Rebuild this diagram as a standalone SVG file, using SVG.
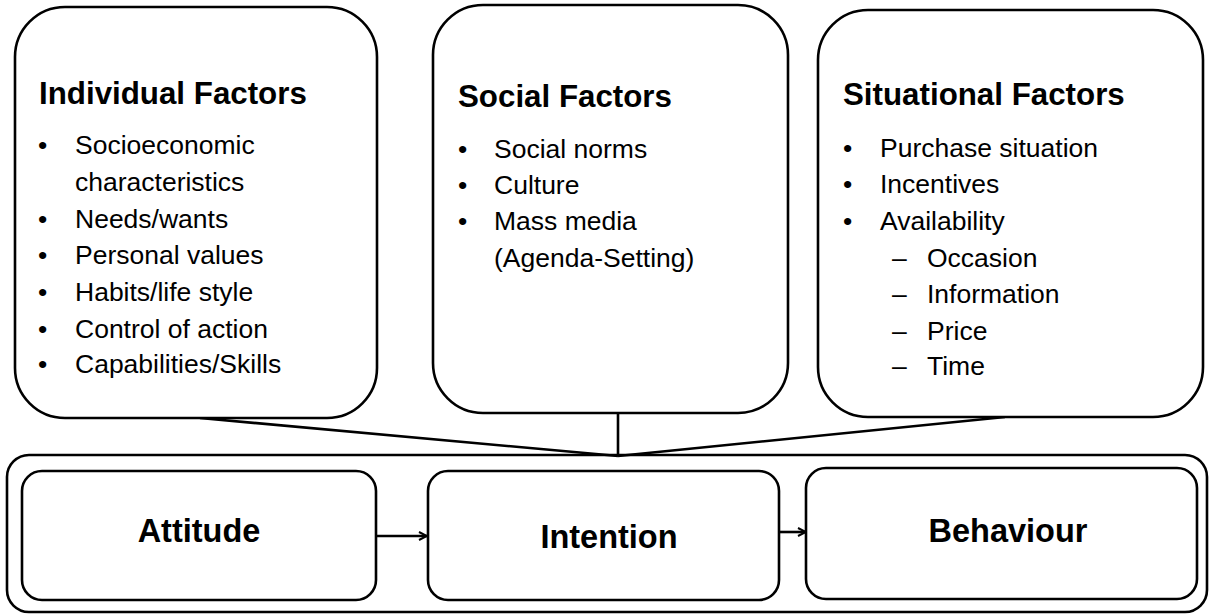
<svg xmlns="http://www.w3.org/2000/svg" width="1212" height="615" viewBox="0 0 1212 615">
<style>
.box{fill:#fff;stroke:#000;stroke-width:2.6}
.conn{stroke:#000;stroke-width:2.6;fill:none}
.h{font-family:"Liberation Sans",Arial,sans-serif;font-weight:bold;font-size:31.3px;fill:#000}
.t{font-family:"Liberation Sans",Arial,sans-serif;font-size:26.5px;fill:#000}
.b{font-family:"Liberation Sans",Arial,sans-serif;font-weight:bold;font-size:32.5px;fill:#000}
</style>
<defs>
<marker id="ah" viewBox="0 0 10 10" refX="9" refY="5" markerWidth="10" markerHeight="10" markerUnits="userSpaceOnUse" orient="auto">
<path d="M1,1 L9,5 L1,9" fill="none" stroke="#000" stroke-width="2"/>
</marker>
</defs>
<g id="outer"><rect class="box" x="7" y="455" width="1200" height="157" rx="22"/></g>
<g id="connectors">
<line class="conn" x1="200" y1="418" x2="618" y2="456"/>
<line class="conn" x1="618" y1="413" x2="618" y2="456"/>
<line class="conn" x1="1005" y1="417" x2="618" y2="456"/>
<line class="conn" x1="376" y1="536" x2="427" y2="536" marker-end="url(#ah)"/>
<line class="conn" x1="779" y1="532" x2="806" y2="532" marker-end="url(#ah)"/>
</g>
<g id="individual">
<rect class="box" x="15" y="7" width="362" height="411" rx="50"/>
<text class="h" x="39" y="104">Individual Factors</text>
<g class="t">
<text x="38" y="154">•</text><text x="75" y="154">Socioeconomic</text>
<text x="75" y="191">characteristics</text>
<text x="38" y="228">•</text><text x="75" y="228">Needs/wants</text>
<text x="38" y="264">•</text><text x="75" y="264">Personal values</text>
<text x="38" y="301">•</text><text x="75" y="301">Habits/life style</text>
<text x="38" y="338">•</text><text x="75" y="338">Control of action</text>
<text x="38" y="373">•</text><text x="75" y="373">Capabilities/Skills</text>
</g>
</g>
<g id="social">
<rect class="box" x="433" y="5" width="355" height="408" rx="50"/>
<text class="h" x="458" y="107">Social Factors</text>
<g class="t">
<text x="458" y="158">•</text><text x="494" y="158">Social norms</text>
<text x="458" y="194">•</text><text x="494" y="194">Culture</text>
<text x="458" y="230">•</text><text x="494" y="230">Mass media</text>
<text x="494" y="267">(Agenda-Setting)</text>
</g>
</g>
<g id="situational">
<rect class="box" x="818" y="10" width="385" height="407" rx="50"/>
<text class="h" x="843" y="105">Situational Factors</text>
<g class="t">
<text x="843" y="157">•</text><text x="880" y="157">Purchase situation</text>
<text x="843" y="193">•</text><text x="880" y="193">Incentives</text>
<text x="843" y="230">•</text><text x="880" y="230">Availability</text>
<text x="892" y="267">–</text><text x="927" y="267">Occasion</text>
<text x="892" y="303">–</text><text x="927" y="303">Information</text>
<text x="892" y="340">–</text><text x="927" y="340">Price</text>
<text x="892" y="375">–</text><text x="927" y="375">Time</text>
</g>
</g>
<g id="attitude">
<rect class="box" x="22" y="471" width="354" height="129" rx="20"/>
<text class="b" x="199" y="542" text-anchor="middle">Attitude</text>
</g>
<g id="intention">
<rect class="box" x="428" y="471" width="351" height="129" rx="20"/>
<text class="b" x="609" y="548" text-anchor="middle">Intention</text>
</g>
<g id="behaviour">
<rect class="box" x="806" y="468" width="391" height="131" rx="20"/>
<text class="b" x="1008" y="542" text-anchor="middle">Behaviour</text>
</g>
</svg>
